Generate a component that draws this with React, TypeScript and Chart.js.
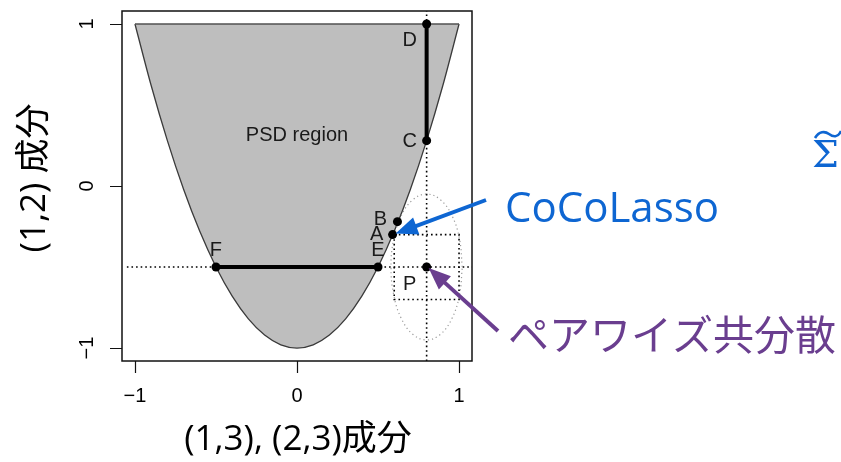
import React, { useEffect, useRef } from "react";
import { Chart, registerables } from "chart.js";

Chart.register(...registerables);

// ---- data ----
const xTicks = [-1, 0, 1];
const xTickLabels = ["\u22121", "0", "1"];
const yTicks = [-1, 0, 1];
const yTickLabels = ["\u22121", "0", "1"];

// PSD region boundary (lower curve)
const boundaryX = [-1, -0.9, -0.8, -0.7, -0.6, -0.5, -0.4, -0.3, -0.2, -0.1, 0, 0.1, 0.2, 0.3, 0.4, 0.5, 0.6, 0.7, 0.8, 0.9, 1];
const boundaryY = [1, 0.62, 0.28, -0.02, -0.28, -0.5, -0.68, -0.82, -0.92, -0.98, -1, -0.98, -0.92, -0.82, -0.68, -0.5, -0.28, -0.02, 0.28, 0.62, 1];
const topEdgeX = [-1, 1];
const topEdgeY = [1, 1];

const pointNames = ["D", "C", "B", "A", "E", "F", "P"];
const pointX = [0.8, 0.8, 0.62, 0.59, 0.5, -0.5, 0.8];
const pointY = [1, 0.28, -0.22, -0.3, -0.5, -0.5, -0.5];

const pathDCX = [0.8, 0.8];
const pathDCY = [1, 0.28];
const pathFEX = [-0.5, 0.5];
const pathFEY = [-0.5, -0.5];

const guideVX = [0.8, 0.8];
const guideVY = [-1.08, 1.08];
const guideHX = [-1.05, 1.08];
const guideHY = [-0.5, -0.5];

const boxX = [0.6, 1.0, 1.0, 0.6, 0.6];
const boxY = [-0.3, -0.3, -0.7, -0.7, -0.3];

const ellipseX = [1.02, 1.003, 0.956, 0.884, 0.8, 0.716, 0.644, 0.597, 0.58, 0.597, 0.644, 0.716, 0.8, 0.884, 0.956, 1.003, 1.02];
const ellipseY = [-0.5, -0.328, -0.182, -0.084, -0.05, -0.084, -0.182, -0.328, -0.5, -0.672, -0.818, -0.916, -0.95, -0.916, -0.818, -0.672, -0.5];

const regionLabel = "PSD region";
const regionLabelX = 0;
const regionLabelY = 0.31;

const xTitle = "(1,3), (2,3)成分";
const yTitle = "(1,2) 成分";
const sigmaText = "\u03A3";
const cocoText = "CoCoLasso";
const pairText = "ペアワイズ共分散";

const BLUE = "#0E66D2";
const PURPLE = "#6A3E8F";

const zip = (xs: number[], ys: number[]) => xs.map((x, i) => ({ x, y: ys[i] }));

const labelOffsets: Record<string, [number, number]> = {
  D: [-17, 17],
  C: [-17, 1],
  B: [-17, -2],
  A: [-16, 0],
  E: [0, -17],
  F: [0, -17],
  P: [-17, 17],
};

function drawArrow(ctx: CanvasRenderingContext2D, x0: number, y0: number, x1: number, y1: number, color: string) {
  const ang = Math.atan2(y1 - y0, x1 - x0);
  const headLen = 22;
  const headHalf = 9;
  const bx = x1 - headLen * Math.cos(ang);
  const by = y1 - headLen * Math.sin(ang);
  ctx.save();
  ctx.strokeStyle = color;
  ctx.fillStyle = color;
  ctx.lineWidth = 4;
  ctx.beginPath();
  ctx.moveTo(x0, y0);
  ctx.lineTo(bx + 4 * Math.cos(ang), by + 4 * Math.sin(ang));
  ctx.stroke();
  ctx.beginPath();
  ctx.moveTo(x1, y1);
  ctx.lineTo(bx + headHalf * Math.sin(ang), by - headHalf * Math.cos(ang));
  ctx.lineTo(bx - headHalf * Math.sin(ang), by + headHalf * Math.cos(ang));
  ctx.closePath();
  ctx.fill();
  ctx.restore();
}

const decorPlugin = {
  id: "decor",
  afterDatasetsDraw(chart: any) {
    const ctx: CanvasRenderingContext2D = chart.ctx;
    const xs = chart.scales.x;
    const ys = chart.scales.y;
    const ca = chart.chartArea;
    ctx.save();
    // labels of points
    ctx.fillStyle = "#1a1a1a";
    ctx.font = "20px 'Liberation Sans', Arial, sans-serif";
    ctx.textAlign = "center";
    ctx.textBaseline = "middle";
    pointNames.forEach((n, i) => {
      const px = xs.getPixelForValue(pointX[i]);
      const py = ys.getPixelForValue(pointY[i]);
      const off = labelOffsets[n];
      ctx.fillText(n, px + off[0], py + off[1]);
    });
    ctx.fillText(regionLabel, xs.getPixelForValue(regionLabelX), ys.getPixelForValue(regionLabelY));

    // box
    ctx.strokeStyle = "#111";
    ctx.lineWidth = 1.5;
    ctx.strokeRect(ca.left, ca.top, ca.right - ca.left, ca.bottom - ca.top);

    // ticks
    ctx.lineWidth = 1.2;
    ctx.beginPath();
    xTicks.forEach((v) => {
      const px = Math.round(xs.getPixelForValue(v)) + 0.5;
      ctx.moveTo(px, ca.bottom);
      ctx.lineTo(px, ca.bottom + 12);
    });
    yTicks.forEach((v) => {
      const py = Math.round(ys.getPixelForValue(v)) + 0.5;
      ctx.moveTo(ca.left, py);
      ctx.lineTo(ca.left - 12, py);
    });
    ctx.stroke();

    ctx.fillStyle = "#000";
    ctx.font = "20px 'Liberation Sans', Arial, sans-serif";
    xTicks.forEach((v, i) => {
      ctx.fillText(xTickLabels[i], xs.getPixelForValue(v), ca.bottom + 35);
    });
    yTicks.forEach((v, i) => {
      ctx.save();
      ctx.translate(ca.left - 35, ys.getPixelForValue(v));
      ctx.rotate(-Math.PI / 2);
      ctx.fillText(yTickLabels[i], 0, 0);
      ctx.restore();
    });

    // axis titles
    ctx.font = "35px 'Open Sans', 'Noto Sans CJK JP', sans-serif";
    ctx.fillText(xTitle, (ca.left + ca.right) / 2 + 1, 440);
    ctx.save();
    ctx.translate(35, 178);
    ctx.rotate(-Math.PI / 2);
    ctx.fillText(yTitle, 0, 0);
    ctx.restore();

    // annotations
    ctx.textAlign = "left";
    ctx.fillStyle = BLUE;
    ctx.font = "42px 'Open Sans', 'Noto Sans CJK JP', sans-serif";
    ctx.fillText(cocoText, 505, 210);
    ctx.textBaseline = "alphabetic";
    ctx.font = "38px 'DejaVu Serif', serif";
    ctx.fillText(sigmaText, 812, 167);
    // tilde over sigma
    ctx.strokeStyle = BLUE;
    ctx.lineWidth = 2.6;
    ctx.beginPath();
    ctx.moveTo(815, 138);
    ctx.bezierCurveTo(819, 131, 825, 131, 829, 134);
    ctx.bezierCurveTo(833, 137, 838, 138, 841, 131);
    ctx.stroke();
    ctx.textBaseline = "middle";
    ctx.fillStyle = PURPLE;
    ctx.font = "41px 'Noto Sans CJK JP', sans-serif";
    ctx.fillText(pairText, 508, 334);

    // arrows
    const ai = pointNames.indexOf("A");
    const pi = pointNames.indexOf("P");
    drawArrow(ctx, 486, 200, xs.getPixelForValue(pointX[ai]) + 3, ys.getPixelForValue(pointY[ai]) - 1, BLUE);
    drawArrow(ctx, 498, 331, xs.getPixelForValue(pointX[pi]) + 2, ys.getPixelForValue(pointY[pi]) + 1, PURPLE);
    ctx.restore();
  },
};

export default function App() {
  const ref = useRef<HTMLCanvasElement | null>(null);
  useEffect(() => {
    if (!ref.current) return;
    const dotted = { borderColor: "#000", borderWidth: 1.6, borderDash: [1.6, 3], pointRadius: 0, showLine: true, fill: false };
    const chart = new Chart(ref.current, {
      type: "scatter",
      data: {
        datasets: [
          {
            data: zip(boundaryX, boundaryY),
            showLine: true,
            cubicInterpolationMode: "monotone",
            borderColor: "#3a3a3a",
            borderWidth: 1.3,
            backgroundColor: "#BEBEBE",
            fill: { value: 1 },
            pointRadius: 0,
            order: 20,
          } as any,
          { data: zip(topEdgeX, topEdgeY), showLine: true, borderColor: "#505050", borderWidth: 1.6, pointRadius: 0, order: 19 },
          { data: zip(guideVX, guideVY), ...dotted, order: 15 },
          { data: zip(guideHX, guideHY), ...dotted, order: 15 },
          { data: zip(boxX, boxY), ...dotted, order: 14 },
          {
            data: zip(ellipseX, ellipseY),
            showLine: true,
            tension: 0.4,
            borderColor: "#9a9a9a",
            borderWidth: 1.2,
            borderDash: [1.2, 3],
            pointRadius: 0,
            order: 13,
          } as any,
          { data: zip(pathDCX, pathDCY), showLine: true, borderColor: "#000", borderWidth: 4, pointRadius: 0, order: 5 },
          { data: zip(pathFEX, pathFEY), showLine: true, borderColor: "#000", borderWidth: 4, pointRadius: 0, order: 5 },
          {
            data: zip(pointX, pointY),
            showLine: false,
            pointRadius: 4.5,
            pointBackgroundColor: "#000",
            pointBorderColor: "#000",
            pointBorderWidth: 0,
            order: 1,
          },
        ],
      },
      options: {
        animation: false,
        responsive: false,
        devicePixelRatio: 1,
        layout: { padding: { left: 122, top: 11, right: 369, bottom: 101 } },
        scales: {
          x: { type: "linear", min: -1.08, max: 1.08, display: false },
          y: { type: "linear", min: -1.08, max: 1.08, display: false },
        },
        plugins: { legend: { display: false }, tooltip: { enabled: false } },
      },
      plugins: [decorPlugin],
    });
    return () => chart.destroy();
  }, []);
  return (
    <div style={{ position: "fixed", left: 0, top: 0, width: 841, height: 462, background: "#fff" }}>
      <canvas ref={ref} width={841} height={462} style={{ width: 841, height: 462, display: "block" }} />
    </div>
  );
}
